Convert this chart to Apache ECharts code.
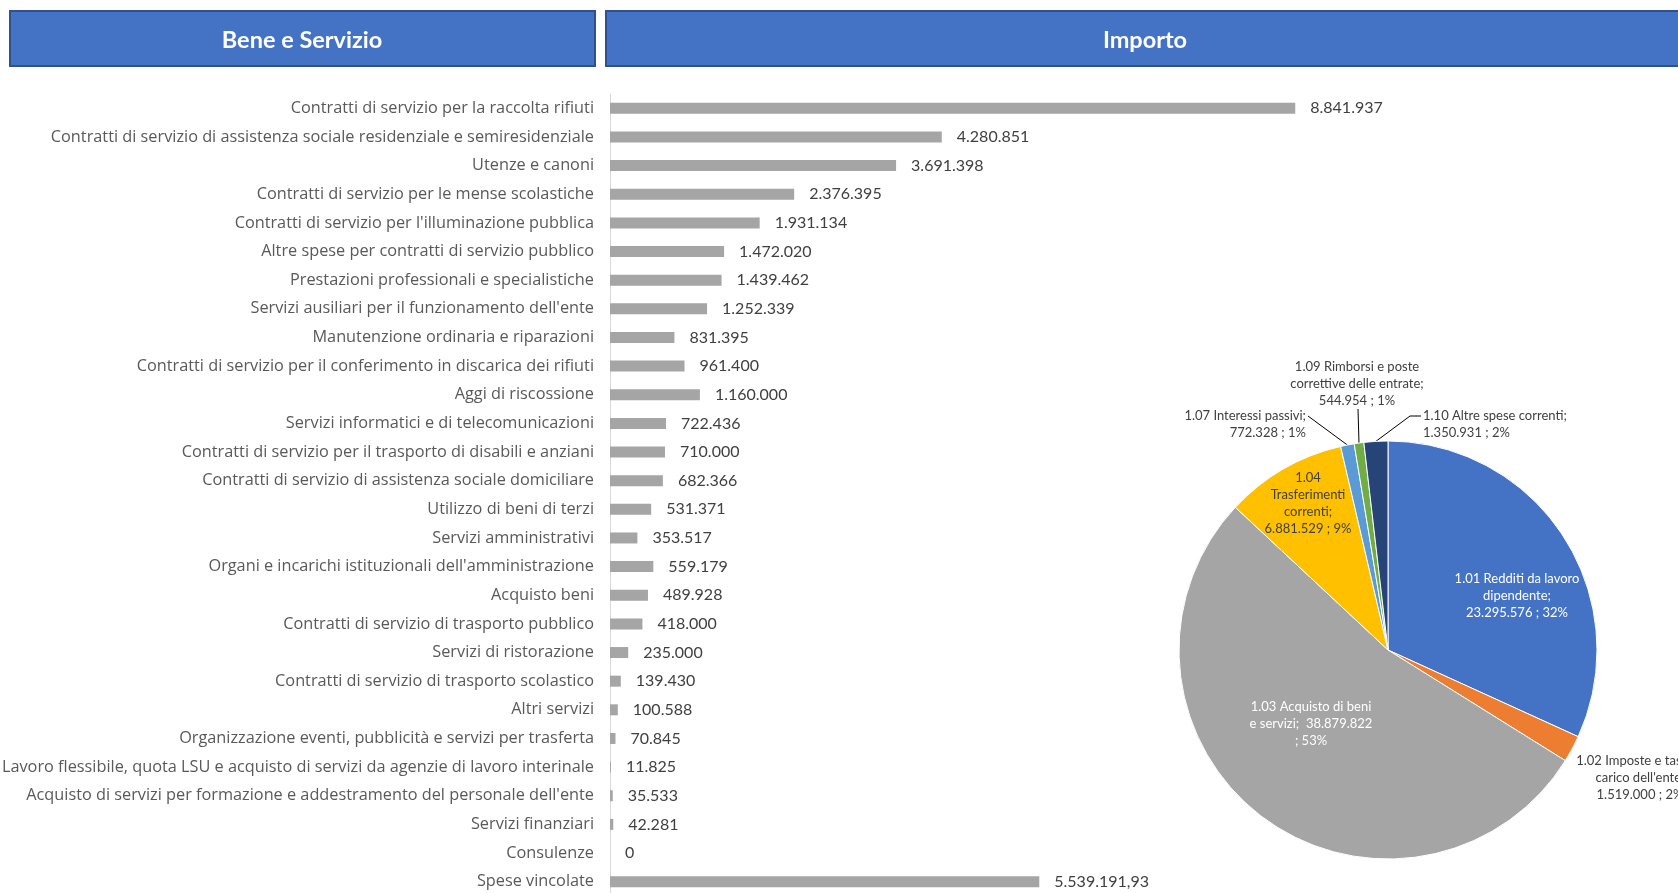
<!DOCTYPE html>
<html>
<head>
<meta charset="utf-8">
<script src="https://cdn.jsdelivr.net/npm/echarts@6/dist/echarts.min.js"></script>
<style>
html,body{margin:0;padding:0;background:#fff;}
#c{width:1678px;height:893px;}
</style>
</head>
<body>
<div id="c"></div>
<script>
// ---- Data ----
const headerLeft = 'Bene e Servizio';
const headerRight = 'Importo';

const categories = [
  'Contratti di servizio per la raccolta rifiuti',
  'Contratti di servizio di assistenza sociale residenziale e semiresidenziale',
  'Utenze e canoni',
  'Contratti di servizio per le mense scolastiche',
  "Contratti di servizio per l'illuminazione pubblica",
  'Altre spese per contratti di servizio pubblico',
  'Prestazioni professionali e specialistiche',
  "Servizi ausiliari per il funzionamento dell'ente",
  'Manutenzione ordinaria e riparazioni',
  'Contratti di servizio per il conferimento in discarica dei rifiuti',
  'Aggi di riscossione',
  'Servizi informatici e di telecomunicazioni',
  'Contratti di servizio per il trasporto di disabili e anziani',
  'Contratti di servizio di assistenza sociale domiciliare',
  'Utilizzo di beni di terzi',
  'Servizi amministrativi',
  "Organi e incarichi istituzionali dell'amministrazione",
  'Acquisto beni',
  'Contratti di servizio di trasporto pubblico',
  'Servizi di ristorazione',
  'Contratti di servizio di trasporto scolastico',
  'Altri servizi',
  'Organizzazione eventi, pubblicità e servizi per trasferta',
  'Lavoro flessibile, quota LSU e acquisto di servizi da agenzie di lavoro interinale',
  "Acquisto di servizi per formazione e addestramento del personale dell'ente",
  'Servizi finanziari',
  'Consulenze',
  'Spese vincolate'
];
const amounts = [
  8841937, 4280851, 3691398, 2376395, 1931134, 1472020, 1439462, 1252339,
  831395, 961400, 1160000, 722436, 710000, 682366, 531371, 353517,
  559179, 489928, 418000, 235000, 139430, 100588, 70845, 11825,
  35533, 42281, 0, 5539191.93
];

const pieNames = [
  '1.01 Redditi da lavoro\ndipendente',
  "1.02 Imposte e tasse a\ncarico dell'ente",
  '1.03 Acquisto di beni\ne servizi',
  '1.04\nTrasferimenti\ncorrenti',
  '1.07 Interessi passivi',
  '1.09 Rimborsi e poste\ncorrettive delle entrate',
  '1.10 Altre spese correnti'
];
const pieValues = [23295576, 1519000, 38879822, 6881529, 772328, 544954, 1350931];
const pieColors = ['#4472C4', '#ED7D31', '#A5A5A5', '#FFC000', '#5B9BD5', '#70AD47', '#264478'];

// ---- Helpers ----
function fmtIt(v) {
  const neg = v < 0; v = Math.abs(v);
  let intPart = Math.floor(v);
  let dec = Math.round((v - intPart) * 100);
  let s = String(intPart).replace(/\B(?=(\d{3})+(?!\d))/g, '.');
  if (dec > 0) s += ',' + (dec < 10 ? '0' + dec : dec);
  return (neg ? '-' : '') + s;
}
const pieTotal = pieValues.reduce((a, b) => a + b, 0);

// label arrangement (text separators / placement)
const sepA = [';\n', ';\n', ';  ', ';\n', ';\n', ';\n', ';\n'];
const sepB = [' ; ', ' ; ', '\n; ', ' ; ', ' ; ', ' ; ', ' ; '];
const insideIdx = [0, 2, 3];
const pieLabelColor = ['#ffffff', '#404040', '#ffffff', '#404040', '#404040', '#404040', '#404040'];

const chart = echarts.init(document.getElementById('c'), null, {renderer: 'canvas'});

const pieData = pieValues.map((v, i) => ({
  value: v,
  name: pieNames[i],
  itemStyle: {color: pieColors[i]},
  label: {
    position: insideIdx.includes(i) ? 'inside' : 'outside',
    color: pieLabelColor[i]
  },
  labelLine: {show: !insideIdx.includes(i) && i !== 1}
}));

// label anchor placement for the pie (x, y, align)
const pieLabelPlace = [
  {x: 1517, y: 596, align: 'center'},
  {x: 1640, y: 778, align: 'center'},
  {x: 1311, y: 724, align: 'center'},
  {x: 1308, y: 503, align: 'center'},
  {x: 1306, y: 424, align: 'right', line: [[1308, 416]]},
  {x: 1357, y: 384, align: 'center', line: [[1358, 409]]},
  {x: 1423, y: 424, align: 'left', line: [[1410, 416], [1421, 416]]}
];

const option = {
  animation: false,
  backgroundColor: '#ffffff',
  textStyle: {fontFamily: 'Lato'},
  graphic: [
    {
      type: 'rect', shape: {x: 10, y: 11, width: 585, height: 55},
      style: {fill: '#4472C4', stroke: '#2F528F', lineWidth: 2}
    },
    {
      type: 'text', x: 302, y: 40,
      style: {text: headerLeft, fill: '#ffffff', font: 'bold 23.5px Lato', align: 'center', verticalAlign: 'middle'}
    },
    {
      type: 'rect', shape: {x: 606, y: 11, width: 1090, height: 55},
      style: {fill: '#4472C4', stroke: '#2F528F', lineWidth: 2}
    },
    {
      type: 'text', x: 1145, y: 40,
      style: {text: headerRight, fill: '#ffffff', font: 'bold 23.5px Lato', align: 'center', verticalAlign: 'middle'}
    }
  ],
  grid: {
    left: 610, top: 94, width: 775, height: 802,
    containLabel: false, outerBoundsMode: 'none'
  },
  xAxis: {
    type: 'value', min: 0, max: 10000000,
    show: false,
    splitLine: {show: false}
  },
  yAxis: {
    type: 'category',
    data: categories,
    inverse: true,
    axisLine: {show: true, lineStyle: {color: '#D9D9D9', width: 1}},
    axisTick: {show: false},
    splitLine: {show: false},
    axisLabel: {color: '#595959', fontSize: 16.3, fontFamily: 'Open Sans', margin: 16}
  },
  series: [
    {
      type: 'bar',
      data: amounts,
      barWidth: 11,
      itemStyle: {color: '#A5A5A5'},
      label: {
        show: true, position: 'right', distance: 15,
        color: '#404040', fontSize: 16, fontFamily: 'Lato',
        formatter: p => fmtIt(p.value)
      },
      silent: true
    },
    {
      type: 'pie',
      center: [1388, 650],
      radius: [0, 209],
      startAngle: 90,
      clockwise: true,
      avoidLabelOverlap: false,
      itemStyle: {borderColor: '#ffffff', borderWidth: 1},
      label: {
        show: true,
        fontSize: 13, fontFamily: 'Lato', lineHeight: 17,
        align: 'center',
        formatter: p => {
          const i = p.dataIndex;
          const pct = Math.round(p.value / pieTotal * 100);
          return pieNames[i] + sepA[i] + fmtIt(p.value) + sepB[i] + pct + '%';
        }
      },
      labelLine: {show: true, length: 15, length2: 10, lineStyle: {color: '#000000', width: 1}},
      labelLayout: params => {
        const pl = pieLabelPlace[params.dataIndex];
        if (!pl) return {};
        const res = {x: pl.x, y: pl.y, align: pl.align, verticalAlign: 'middle', moveOverlap: false, hideOverlap: false};
        if (pl.line && params.labelLinePoints && params.labelLinePoints.length) {
          res.labelLinePoints = [params.labelLinePoints[0]].concat(pl.line);
        }
        return res;
      },
      data: pieData
    }
  ]
};
chart.setOption(option);
</script>
</body>
</html>
